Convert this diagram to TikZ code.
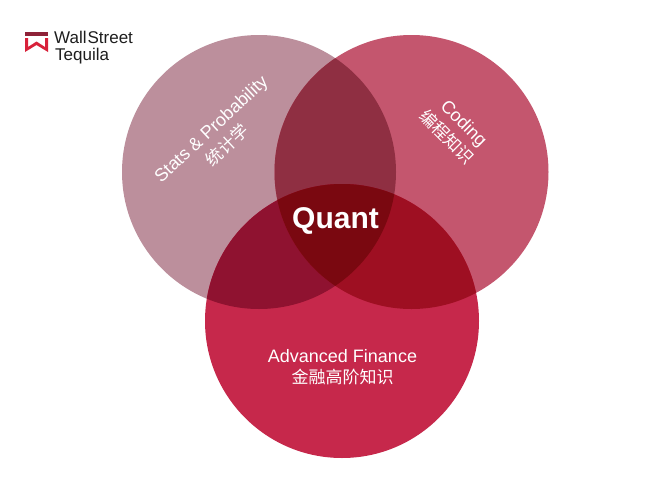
\documentclass[tikz,border=0pt]{standalone}
\usepackage{fontspec}
\setmainfont{Liberation Sans}
\newfontfamily\cjk{Noto Sans CJK SC}[Scale=1]
\newfontfamily\cjkb{Noto Sans CJK SC Medium}
\definecolor{cL}{HTML}{BC8F9C}
\definecolor{cR}{HTML}{C4566E}
\definecolor{cB}{HTML}{C6284B}
\definecolor{cLR}{HTML}{8F2F42}
\definecolor{cLB}{HTML}{8F1230}
\definecolor{cRB}{HTML}{9E0F22}
\definecolor{cLRB}{HTML}{7A0810}
\definecolor{logoDark}{HTML}{8E2238}
\definecolor{logoRed}{HTML}{D8213A}
\definecolor{logoInk}{HTML}{1E1E1E}
\tikzset{
  px/.style={x=1pt,y=-1pt},
  lab/.style={text=white,inner sep=0pt,align=center},
  fsLab/.style={font=\fontsize{18}{18}\selectfont},
  fsCjk/.style={font=\fontsize{17}{17}\selectfont\cjk},
  brand/.style={text=logoInk,inner sep=0pt,anchor=base west,font=\fontsize{17}{17}\selectfont},
}
\newcommand{\cL}{(259,172) circle[radius=137]}
\newcommand{\cR}{(411.5,172) circle[radius=137]}
\newcommand{\cB}{(342,321) circle[radius=137]}
\begin{document}
\begin{tikzpicture}[px]
\useasboundingbox (0,0) rectangle (670,493);
\fill[white] (0,0) rectangle (670,493);
\fill[cL] \cL;
\fill[cR] \cR;
\fill[cB] \cB;
\begin{scope}\clip \cL; \fill[cLR] \cR; \end{scope}
\begin{scope}\clip \cL; \fill[cLB] \cB; \end{scope}
\begin{scope}\clip \cR; \fill[cRB] \cB; \end{scope}
\begin{scope}\clip \cL; \clip \cR; \fill[cLRB] \cB; \end{scope}
% logo
\fill[logoDark] (25,32) rectangle (48,35.5);
\fill[logoRed] (25,38) -- (28,38) -- (28,47) -- (36.5,41.5) -- (45,47) -- (45,38) -- (48,38) -- (48,52) -- (36.5,45) -- (25,52) -- cycle;
\node[brand] (brand1) at (54,43) {Wall\kern1pt Street};
\node[brand] (brand2) at (55,60) {Tequila};
% labels
\node[lab,font=\fontsize{30}{30}\selectfont\bfseries] (quant) at (335.5,221) {Quant};
\node[lab,fsLab] (fin) at (342.5,356) {Advanced Finance};
\node[lab,fsCjk] (finz) at (342.5,377) {金融高阶知识};
\node[lab,fsLab,rotate=43] (stats) at (212,130) {Stats \& Probability};
\node[lab,fsCjk,rotate=43] (statsz) at (227,145) {统计学};
\node[lab,fsLab,rotate=-45] (code) at (463,124) {Coding};
\node[lab,fsCjk,rotate=-45] (codez) at (447,137) {编程知识};
\end{tikzpicture}
\end{document}
